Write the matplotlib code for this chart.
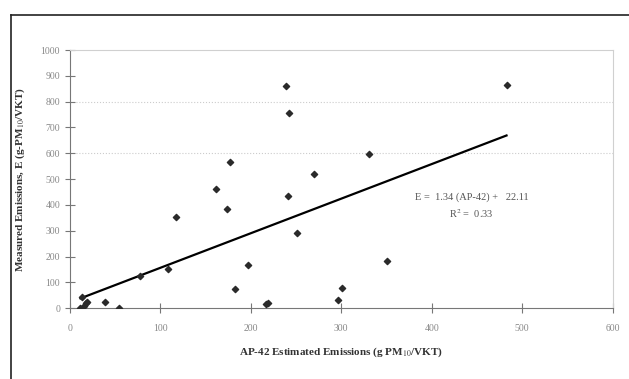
import numpy as np
import matplotlib
matplotlib.use("Agg")
import matplotlib.pyplot as plt
from matplotlib.lines import Line2D

# AP-42 estimated vs measured emissions (g PM10 / VKT)
ap42 = [11.8, 13.6, 15.5, 17.7, 19.0, 38.7, 53.9, 78.0, 108.0, 117.7,
        161.6, 174.0, 176.8, 182.3, 196.7, 216.6, 219.0, 239.0, 242.8,
        241.7, 251.0, 270.0, 296.0, 300.7, 331.0, 351.0, 482.7]
measured = [1, 44, 9, 18, 23, 23, 1, 124, 151, 354,
            461, 384, 566, 76, 167, 15, 18, 862, 756,
            435, 292, 521, 31, 77, 597, 183, 864]
slope = 1.34
intercept = 22.11
r2 = 0.33

plt.rcParams['font.family'] = ['Liberation Serif', 'DejaVu Serif']
plt.rcParams['mathtext.fontset'] = 'stix'

fig = plt.figure(figsize=(6.29, 3.79), dpi=100)
ax = fig.add_axes([0.111, 0.187, 0.863, 0.681])

ax.scatter(ap42, measured, marker='D', s=10, color='#2a2a2a', zorder=3)

xl = np.array([min(ap42), max(ap42)])
ax.plot(xl, slope * xl + intercept, color='black', lw=1.6, zorder=2)

ax.text(444, 430, "E =  %.2f (AP-42) +   %.2f" % (slope, intercept),
        ha='center', va='center', fontsize=7.5, color='#555555')
ax.text(444, 365, "R$^{2}$ =  %.2f" % r2,
        ha='center', va='center', fontsize=7.5, color='#555555')

ax.set_xlim(0, 600)
ax.set_ylim(0, 1000)
ax.set_xticks(range(0, 601, 100))
ax.set_yticks(range(0, 1001, 100))
for g in [600, 800]:
    ax.axhline(g, color='#cccccc', lw=0.8, ls=':', zorder=1)

for s in ['top', 'right']:
    ax.spines[s].set_color('#d0d0d0')
for s in ['left', 'bottom']:
    ax.spines[s].set_color('#777777')
ax.tick_params(direction='inout', length=7, width=0.8, color='#777777',
               labelsize=7, labelcolor='#888888')
ax.tick_params(axis='x', pad=8)

ax.set_xlabel("AP-42 Estimated Emissions (g PM$_{10}$/VKT)", fontsize=8,
              fontweight='bold', color='#333333', labelpad=9)
ax.set_ylabel("Measured Emissions, E (g-PM$_{10}$/VKT)", fontsize=8,
              fontweight='bold', color='#333333', labelpad=10)

# outer frame
fig.add_artist(Line2D([11 / 629, 1], [1 - 15 / 379] * 2, color='#222222', lw=1.2))
fig.add_artist(Line2D([11 / 629] * 2, [0, 1 - 15 / 379], color='#222222', lw=1.2))

fig.savefig("out.png", dpi=100)
